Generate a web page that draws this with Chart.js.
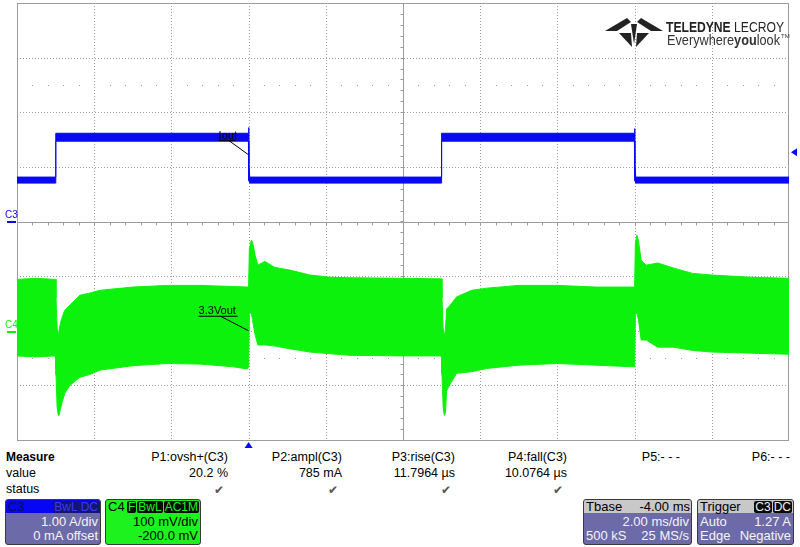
<!DOCTYPE html>
<html>
<head>
<meta charset="utf-8">
<script src="https://cdn.jsdelivr.net/npm/chart.js"></script>
<style>
  html, body { margin: 0; padding: 0; background: #fff; }
  body { width: 800px; height: 547px; position: relative; overflow: hidden;
         font-family: 'Liberation Sans', Arial, sans-serif; }
  #scope { position: absolute; left: 0; top: 0; }
  .m { position: absolute; font-size: 12.5px; line-height: 14px; color: #000; white-space: nowrap; }
  .m.r { text-align: right; width: 110px; }
  .chk { position: absolute; font-family: 'DejaVu Sans', sans-serif; font-size: 12px; color: #555;
         line-height: 14px; text-align: right; width: 110px; }
  .box { position: absolute; box-sizing: border-box; border: 1px solid #3a3a3a; border-radius: 3px;
         overflow: hidden; font-size: 13px; background: #6d6aa9; color: #f4f4f4; white-space: nowrap; }
  .hdr { height: 13px; line-height: 13px; padding: 0 1px 0 2px; display: flex; justify-content: space-between;
         align-items: center; }
  .row { height: 14px; line-height: 14px; padding: 0 2px; display: flex; justify-content: space-between; }
  .row.first { margin-top: 2px; }
  .tag { display: inline-block; border-radius: 2px; padding: 0 1px; margin-left: 1px; font-size: 12px;
         line-height: 12px; height: 12px; }
</style>
</head>
<body>
<canvas id="scope" width="800" height="450"></canvas>

<svg style="position:absolute;left:0;top:0" width="800" height="60">
  <g fill="#232323">
    <polygon points="605,31 627,18 631,22 617,31"/>
    <polygon points="663,31 641,18 637,22 651,31"/>
    <polygon points="619,33 631,33 632,47"/>
    <polygon points="637,33 649,33 636,47"/>
    <polygon points="631,24 637,24 634,44"/>
  </g>
  <text x="666" y="32" font-family="Liberation Sans, Arial" font-size="15.5" fill="#232323"
        textLength="118" lengthAdjust="spacingAndGlyphs"><tspan font-weight="bold">TELEDYNE</tspan> LECROY</text>
  <text x="667" y="45" font-family="Liberation Sans, Arial" font-size="14" fill="#333"
        textLength="113" lengthAdjust="spacingAndGlyphs">Everywhere<tspan font-weight="bold">you</tspan>look</text>
  <text x="781" y="38" font-family="Liberation Sans, Arial" font-size="6" fill="#333">TM</text>
</svg>

<div class="m" style="left:6px;top:450px;font-weight:bold;font-size:12px">Measure</div>
<div class="m" style="left:6px;top:466px">value</div>
<div class="m" style="left:6px;top:482px">status</div>
<div id="measure"></div>

<div class="box" style="left:5px;top:499px;width:96px;height:46px">
  <div class="hdr" style="background:#0606f4;color:#0c0c58"><span>C3</span>
    <span><span class="tag" style="background:#15156e;color:#3a3aff">BwL</span><span class="tag" style="background:#15156e;color:#3a3aff">DC</span></span></div>
  <div class="row first" style="justify-content:flex-end">1.00 A/div</div>
  <div class="row" style="justify-content:flex-end">0 mA offset</div>
</div>
<div class="box" style="left:105px;top:499px;width:96px;height:46px;background:#1ef21e;color:#000">
  <div class="hdr"><span>C4</span>
    <span><span class="tag" style="background:#080808;color:#1ef21e">F</span><span class="tag" style="background:#080808;color:#1ef21e">BwL</span><span class="tag" style="background:#080808;color:#1ef21e">AC1M</span></span></div>
  <div class="row first" style="justify-content:flex-end">100 mV/div</div>
  <div class="row" style="justify-content:flex-end">-200.0 mV</div>
</div>
<div class="box" style="left:583px;top:499px;width:109px;height:46px">
  <div class="hdr" style="background:#c8c8c8;color:#000"><span>Tbase</span><span>-4.00 ms</span></div>
  <div class="row first" style="justify-content:flex-end">2.00 ms/div</div>
  <div class="row"><span>500 kS</span><span>25 MS/s</span></div>
</div>
<div class="box" style="left:697px;top:499px;width:97px;height:46px">
  <div class="hdr" style="background:#c8c8c8;color:#000"><span>Trigger</span>
    <span><span class="tag" style="background:#0a0a0a;color:#eee">C3</span><span class="tag" style="background:#0a0a0a;color:#eee">DC</span></span></div>
  <div class="row first"><span>Auto</span><span>1.27 A</span></div>
  <div class="row"><span>Edge</span><span>Negative</span></div>
</div>

<script>
// 시간축 (ms), 트리거 = 0
const timeDivs = [-6, -4, -2, 0, 2, 4, 6, 8, 10, 12, 14];
const ampDivs = [-4, -3, -2, -1, 0, 1, 2, 3, 4];

// C3 전류 (A) : 밴드 상/하단
const c3Time = [-6, -5.0, -4.995, -0.005, 0, 0.01, 0.03, 4.995, 5.0, 9.995, 10.0, 10.01, 10.03, 14];
const c3Top  = [0.813, 0.813, 1.615, 1.615, 1.72, 1.06, 0.813, 0.813, 1.615, 1.615, 1.70, 1.06, 0.813, 0.813];
const c3Bot  = [0.703, 0.703, 1.47, 1.47, 1.47, 0.75, 0.703, 0.703, 1.47, 1.47, 1.47, 0.75, 0.703, 0.703];

// C4 3.3Vout (mV, AC) : 밴드 상/하단
const c4Time = [-6, -5.5, -5.02, -5.0, -4.99, -4.96, -4.93, -4.91, -4.88, -4.84, -4.76, -4.63, -4.37, -4.11,
  -3.85, -3.0, -2.11, -1.26, -0.40, -0.03, 0.0, 0.02, 0.07, 0.1, 0.17, 0.24, 0.42, 0.68, 1.07, 1.59, 2.11,
  2.63, 3.92, 4.98, 5.0, 5.01, 5.04, 5.07, 5.1, 5.13, 5.2, 5.39, 5.78, 6.17, 7.0, 8.0, 9.0, 9.97, 10.0,
  10.02, 10.06, 10.1, 10.17, 10.3, 10.6, 11.0, 11.5, 12.0, 13.0, 14.0];
const c4Top = [94, 96, 94, 94, 60, 5, -10, 1, 12, 23, 38, 47, 65, 69,
  74, 80, 83, 83, 81, 80, 80, 150, 166, 163, 138, 120, 127, 116, 111, 102, 98,
  97, 96, 95, 95, 60, 5, -10, 2, 40, 45, 62, 74, 78, 83, 83, 80, 80, 80,
  160, 175, 165, 129, 120, 124, 115, 105, 102, 98, 96];
const c4Bot = [-46, -48, -46, -50, -80, -140, -155, -155, -145, -133, -114, -100, -85, -80,
  -72, -64, -60, -61, -66, -70, -66, 30, 34, 20, -8, -26, -26, -28, -33, -39, -42,
  -45, -46, -46, -50, -80, -140, -155, -150, -110, -100, -78, -75, -69, -63, -60, -63, -66, -66,
  30, 32, 20, -17, -17, -30, -30, -36, -39, -41, -43];

const C3_COLOR = '#0a0af2';
const C4_COLOR = '#0cf20c';
const GRID = '#9c9c9c';

const pts = (xs, ys) => xs.map((x, i) => ({ x, y: ys[i] }));

const scopeGrid = {
  id: 'scopeGrid',
  beforeDatasetsDraw(chart) {
    const { ctx, chartArea: a, scales } = chart;
    const x = scales.x, y = scales.yC3;
    const cx = x.getPixelForValue(4), cy = y.getPixelForValue(0);
    ctx.save();
    ctx.strokeStyle = GRID;
    ctx.lineWidth = 1;
    ctx.setLineDash([1, 2]);
    timeDivs.slice(1, -1).forEach(t => {
      if (t === 4) return;
      const px = Math.round(x.getPixelForValue(t)) + 0.5;
      ctx.beginPath(); ctx.moveTo(px, a.top); ctx.lineTo(px, a.bottom); ctx.stroke();
    });
    ampDivs.slice(1, -1).forEach(v => {
      if (v === 0) return;
      const py = Math.round(y.getPixelForValue(v)) + 0.5;
      ctx.beginPath(); ctx.moveTo(a.left, py); ctx.lineTo(a.right, py); ctx.stroke();
    });
    ctx.setLineDash([]);
    // 보조 점 (±2.5 div)
    ctx.fillStyle = GRID;
    [2.5, -2.5].forEach(v => {
      const py = Math.round(y.getPixelForValue(v));
      for (let t = -6; t < 14; t += 0.4) {
        if (Math.abs(t - Math.round(t / 2) * 2) < 0.01) continue;
        ctx.fillRect(Math.round(x.getPixelForValue(t)), py, 1, 1);
      }
    });
    // 중심축 + 눈금
    const hy = Math.round(cy) + 0.5, vx = Math.round(cx) + 0.5;
    ctx.beginPath();
    ctx.moveTo(a.left, hy); ctx.lineTo(a.right, hy);
    ctx.moveTo(vx, a.top); ctx.lineTo(vx, a.bottom);
    for (let t = -6; t < 14; t += 0.4) {
      const px = Math.round(x.getPixelForValue(t)) + 0.5;
      ctx.moveTo(px, hy); ctx.lineTo(px, hy + 3);
    }
    for (let v = -4; v < 4; v += 0.2) {
      const py = Math.round(y.getPixelForValue(v)) + 0.5;
      ctx.moveTo(vx - 3, py); ctx.lineTo(vx, py);
    }
    ctx.stroke();
    ctx.strokeRect(a.left + 0.5, a.top + 0.5, a.right - a.left - 1, a.bottom - a.top);
    ctx.restore();
  },
  afterDatasetsDraw(chart) {
    const { ctx, chartArea: a, scales } = chart;
    const x = scales.x, y3 = scales.yC3, y4 = scales.yC4;
    ctx.save();
    ctx.font = '11px "Liberation Sans", Arial';
    ctx.fillStyle = '#000';
    ctx.strokeStyle = '#000';
    ctx.lineWidth = 1;
    // Iout 라벨
    let ax = x.getPixelForValue(0), ay = y3.getPixelForValue(1.22);
    ctx.fillText('Iout', ax - 30, ay - 16);
    ctx.beginPath();
    ctx.moveTo(ax - 30, ay - 14.5); ctx.lineTo(ax - 13, ay - 14.5);
    ctx.moveTo(ax - 20, ay - 14.5); ctx.lineTo(ax, ay);
    ctx.stroke();
    // 3.3Vout 라벨
    ax = x.getPixelForValue(0); ay = y4.getPixelForValue(0);
    ctx.fillText('3.3Vout', ax - 50, ay - 17);
    ctx.beginPath();
    ctx.moveTo(ax - 50, ay - 14.5); ctx.lineTo(ax - 11, ay - 14.5);
    ctx.moveTo(ax - 28, ay - 14.5); ctx.lineTo(ax, ay);
    ctx.stroke();
    // 채널 기준 마커
    ctx.font = '10px "Liberation Sans", Arial';
    const g3 = Math.round(y3.getPixelForValue(0)), g4 = Math.round(y4.getPixelForValue(0));
    ctx.fillStyle = C3_COLOR;
    ctx.fillText('C3', 5, g3 - 4);
    ctx.fillRect(7, g3 - 1, 9, 2);
    ctx.fillStyle = C4_COLOR;
    ctx.fillText('C4', 5, g4 - 3);
    ctx.fillRect(7, g4, 9, 2);
    // 트리거 레벨 / 위치
    ctx.fillStyle = C3_COLOR;
    const tl = y3.getPixelForValue(1.27);
    ctx.beginPath(); ctx.moveTo(791, tl); ctx.lineTo(797, tl - 4); ctx.lineTo(797, tl + 4); ctx.closePath(); ctx.fill();
    const tp = x.getPixelForValue(0);
    ctx.beginPath(); ctx.moveTo(tp, a.bottom + 2); ctx.lineTo(tp - 4, a.bottom + 8); ctx.lineTo(tp + 4, a.bottom + 8); ctx.closePath(); ctx.fill();
    ctx.restore();
  }
};

new Chart(document.getElementById('scope'), {
  type: 'line',
  data: {
    datasets: [
      { data: pts(c4Time, c4Top), yAxisID: 'yC4', borderColor: C4_COLOR, borderWidth: 1, pointRadius: 0, fill: false },
      { data: pts(c4Time, c4Bot), yAxisID: 'yC4', borderColor: C4_COLOR, borderWidth: 1, pointRadius: 0,
        fill: '-1', backgroundColor: C4_COLOR },
      { data: pts(c3Time, c3Top), yAxisID: 'yC3', borderColor: C3_COLOR, borderWidth: 1, pointRadius: 0, fill: false },
      { data: pts(c3Time, c3Bot), yAxisID: 'yC3', borderColor: C3_COLOR, borderWidth: 1, pointRadius: 0,
        fill: '-1', backgroundColor: C3_COLOR }
    ]
  },
  options: {
    responsive: false,
    animation: false,
    layout: { padding: { left: 17, top: 3, right: 11, bottom: 10 } },
    plugins: { legend: { display: false }, tooltip: { enabled: false } },
    elements: { line: { tension: 0 } },
    scales: {
      x: { type: 'linear', min: -6, max: 14, display: false },
      yC3: { min: -4, max: 4, display: false },
      yC4: { min: -200, max: 600, display: false }
    }
  },
  plugins: [scopeGrid]
});

// 측정 테이블
const measNames = ['P1:ovsh+(C3)', 'P2:ampl(C3)', 'P3:rise(C3)', 'P4:fall(C3)', 'P5:- - -', 'P6:- - -'];
const measValues = ['20.2 %', '785 mA', '11.7964 µs', '10.0764 µs', '', ''];
const measOk = [true, true, true, true, false, false];
const measRight = [228, 342, 455, 567, 680, 790];
const host = document.getElementById('measure');
measNames.forEach((n, i) => {
  const l = measRight[i] - 110;
  host.insertAdjacentHTML('beforeend',
    `<div class="m r" style="left:${l}px;top:450px">${n}</div>` +
    `<div class="m r" style="left:${l}px;top:466px">${measValues[i]}</div>` +
    (measOk[i] ? `<div class="chk" style="left:${l - 4}px;top:483px">✔</div>` : ''));
});
</script>
</body>
</html>
